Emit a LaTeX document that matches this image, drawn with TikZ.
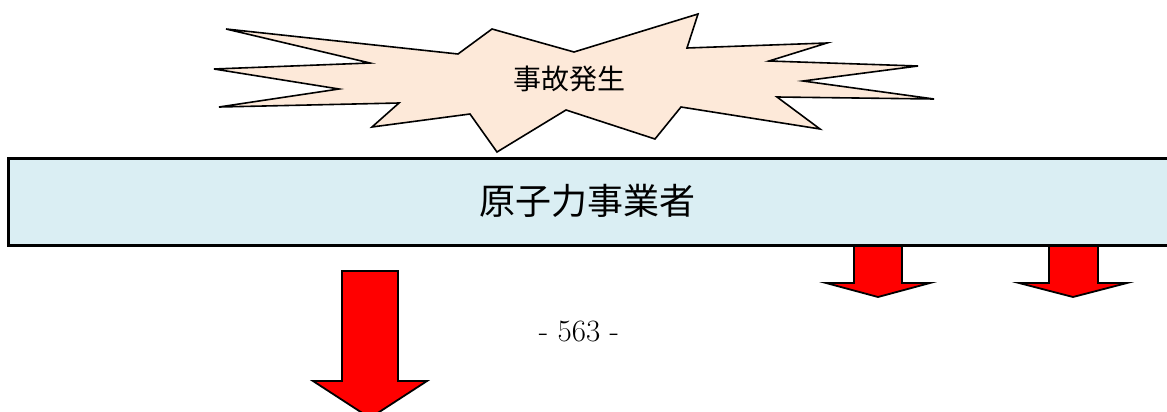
\documentclass[tikz,border=0pt]{standalone}
\usepackage{fontspec}
\newfontfamily\jpfont{Noto Sans CJK JP}
\definecolor{burstfill}{HTML}{FDE9D9}
\definecolor{boxfill}{HTML}{DAEEF3}
\definecolor{arrowred}{HTML}{FF0000}
\tikzset{
  burst/.style={draw=black, fill=burstfill, line width=1.6pt, line join=miter},
  bigbox/.style={draw=black, fill=boxfill, line width=3pt},
  blockarrow/.style={draw=black, fill=arrowred, line width=1.8pt, line join=miter},
  jplabel/.style={font=\jpfont, text=black, inner sep=0pt},
}
\begin{document}
\begin{tikzpicture}[x=1pt,y=-1pt]
\useasboundingbox (0,0) rectangle (1167,412);
\begin{scope}
\clip (0,0) rectangle (1167,412);
% starburst
\draw[burst] (226,29) -- (458,54) -- (492,29) -- (574,52) -- (698,14) -- (687,48)
  -- (827,43) -- (769,61) -- (918,66) -- (803,81) -- (934,99) -- (777,97)
  -- (820,129) -- (681,107) -- (655,139) -- (566,110) -- (497,152) -- (470,114)
  -- (372,127) -- (399,103) -- (219,107) -- (339,89) -- (214,69) -- (370,63) -- cycle;
\node[jplabel, font=\jpfont\fontsize{28}{30}\selectfont] (accident) at (569,79) {事故発生};
% operator box
\draw[bigbox] (8,158) rectangle (1180,245);
\node[jplabel, font=\jpfont\fontsize{36}{40}\selectfont] (operator) at (587,201) {原子力事業者};
% big arrow
\draw[blockarrow] (342,271) -- (398,271) -- (398,381) -- (427,381) -- (370,418)
  -- (313,381) -- (342,381) -- cycle;
% small arrows
\draw[blockarrow] (854,246) -- (902,246) -- (902,283) -- (930,283) -- (878,297)
  -- (826,283) -- (854,283) -- cycle;
\draw[blockarrow] (1049,246) -- (1098,246) -- (1098,283) -- (1127,283) -- (1073,297)
  -- (1019,283) -- (1049,283) -- cycle;
\end{scope}
% page number
\node[inner sep=0pt, font=\fontsize{31}{34}\selectfont] (pagenum) at (579,331) {- 563 -};
\end{tikzpicture}
\end{document}
